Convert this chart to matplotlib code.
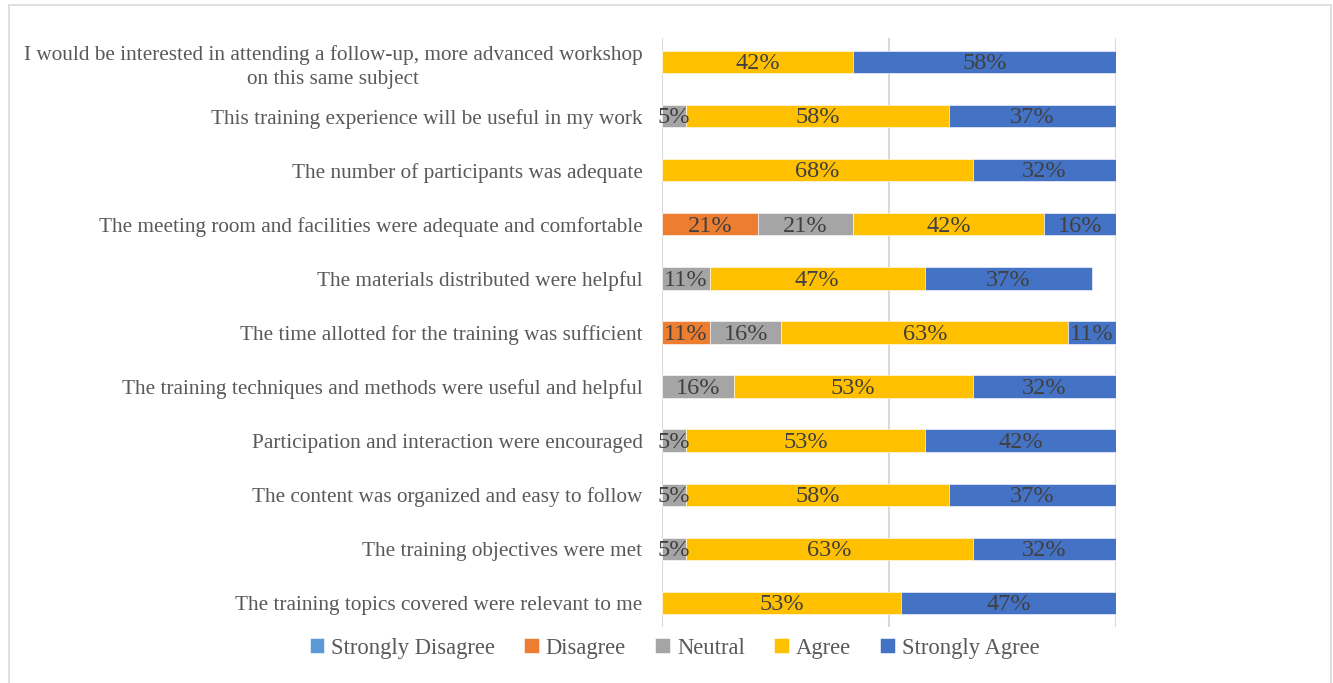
import matplotlib.pyplot as plt
from matplotlib.patches import Rectangle

# Survey statements, top to bottom as in the chart
statements = [
    "I would be interested in attending a follow-up, more advanced workshop\non this same subject",
    "This training experience will be useful in my work",
    "The number of participants was adequate",
    "The meeting room and facilities were adequate and comfortable",
    "The materials distributed were helpful",
    "The time allotted for the training was sufficient",
    "The training techniques and methods were useful and helpful",
    "Participation and interaction were encouraged",
    "The content was organized and easy to follow",
    "The training objectives were met",
    "The training topics covered were relevant to me",
]

# percentages per answer, same order as statements
strongly_disagree = [0, 0, 0, 0, 0, 0, 0, 0, 0, 0, 0]
disagree = [0, 0, 0, 21.05, 0, 10.53, 0, 0, 0, 0, 0]
neutral = [0, 5.26, 0, 21.05, 10.53, 15.79, 15.79, 5.26, 5.26, 5.26, 0]
agree = [42.11, 57.89, 68.42, 42.11, 47.37, 63.16, 52.63, 52.63, 57.89, 63.16, 52.63]
strongly_agree = [57.89, 36.84, 31.58, 15.79, 36.84, 10.53, 31.58, 42.11, 36.84, 31.58, 47.37]

series = [
    ("Strongly Disagree", strongly_disagree, "#5B9BD5"),
    ("Disagree", disagree, "#ED7D31"),
    ("Neutral", neutral, "#A5A5A5"),
    ("Agree", agree, "#FFC000"),
    ("Strongly Agree", strongly_agree, "#4472C4"),
]

plt.rcParams['font.family'] = ['Liberation Serif', 'DejaVu Serif']

fig = plt.figure(figsize=(13.33, 6.83), dpi=100)
ax = fig.add_axes([0.4966, 0.082, 0.3406, 0.8624])

# border around the whole chart area
fig.patches.append(Rectangle((9 / 1333, -0.01), 1322 / 1333, 1 - 5 / 683 + 0.01,
                             transform=fig.transFigure, fill=False,
                             edgecolor="#D9D9D9", linewidth=1.2))

ypos = list(range(len(statements)))
left = [0.0] * len(statements)
for name, vals, col in series:
    ax.barh(ypos, vals, left=left, height=0.41, color=col, label=name,
            edgecolor="white", linewidth=0.4, zorder=3)
    for i, v in enumerate(vals):
        if v > 0:
            ax.text(left[i] + v / 2, ypos[i] + 0.03, "%d%%" % round(v), ha="center",
                    va="center", fontsize=17.5, color="#404040", zorder=4)
    left = [l + v for l, v in zip(left, vals)]

ax.set_xlim(0, 100)
ax.set_ylim(len(statements) - 0.55, -0.45)
ax.set_yticks(ypos)
ax.set_yticklabels(statements, fontsize=15.3, color="#595959", linespacing=1.35)
ax.tick_params(axis="y", length=0, pad=14)
ax.set_xticks([0, 50, 100])
ax.tick_params(axis="x", length=0, labelbottom=False)
ax.grid(axis="x", color="#D9D9D9", linewidth=1.5, zorder=0)
for s in ax.spines.values():
    s.set_visible(False)
for t in ax.get_yticklabels():
    t.set_multialignment("center")

fig.legend(loc="center", bbox_to_anchor=(0.506, 0.051), ncol=5, frameon=False,
           fontsize=16.3, labelcolor="#595959", handlelength=0.65, handleheight=0.65,
           handletextpad=0.3, columnspacing=1.3)

fig.savefig("out.png", dpi=100)
